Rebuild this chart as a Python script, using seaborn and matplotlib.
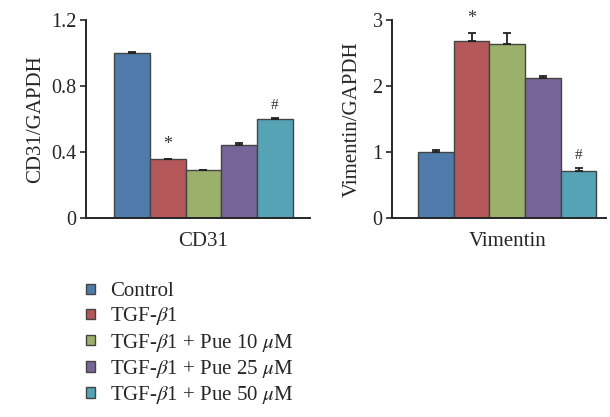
import numpy as np
import pandas as pd
import matplotlib
matplotlib.use("Agg")
import matplotlib.pyplot as plt
import seaborn as sns

# ── data ──────────────────────────────────────────────────
groups = ["Control", r"TGF-$\beta$1", r"TGF-$\beta$1 + Pue 10 $\mu$M",
          r"TGF-$\beta$1 + Pue 25 $\mu$M", r"TGF-$\beta$1 + Pue 50 $\mu$M"]
cd31_mean = [1.00, 0.355, 0.29, 0.44, 0.60]
cd31_err = [0.006, 0.006, 0.004, 0.012, 0.009]
cd31_marks = ["", "*", "", "", "#"]
vim_mean = [1.00, 2.68, 2.63, 2.12, 0.72]
vim_err = [0.03, 0.13, 0.17, 0.025, 0.04]
vim_marks = ["", "*", "", "", "#"]
colors = ["#4f7bab", "#b5585a", "#9bb06a", "#776599", "#55a3b5"]

sns.set_style("ticks")
plt.rcParams["font.family"] = ["Liberation Serif", "DejaVu Serif"]
plt.rcParams["mathtext.fontset"] = "stix"
plt.rcParams["axes.linewidth"] = 1.4


def panel(ax, name, means, errs, marks, ylim, yticks, yticklabels, ylabel, xlim, pad):
    df = pd.DataFrame({"marker": [name] * len(groups), "group": groups, "value": means})
    sns.barplot(data=df, x="marker", y="value", hue="group", hue_order=groups,
                palette=colors, saturation=1, width=0.8, edgecolor="#444444",
                linewidth=1.0, errorbar=None, legend=False, ax=ax)
    bars = [p for p in ax.patches if p.get_height() > 0]
    for p, m, e, s in zip(bars, means, errs, marks):
        xc = p.get_x() + p.get_width() / 2
        ax.errorbar(xc, m, yerr=[[0], [e]], color="#222222", capsize=3,
                    elinewidth=1.3, capthick=1.3)
        if s:
            ax.text(xc, m + e + ylim[1] * 0.03, s, ha="center", va="bottom",
                    fontsize=13 if s == "*" else 11, color="#333333")
    ax.set_ylim(*ylim)
    ax.set_xlim(*xlim)
    ax.set_yticks(yticks)
    ax.set_yticklabels(yticklabels, fontsize=14.5)
    ax.set_ylabel(ylabel, fontsize=15, labelpad=pad)
    ax.set_xlabel("")
    ax.tick_params(axis="x", length=0, labelsize=15, pad=10)
    ax.tick_params(axis="y", length=4, width=1.2, direction="out", pad=3)
    sns.despine(ax=ax)


fig = plt.figure(figsize=(6.1, 4.17), dpi=100)
ax1 = fig.add_axes([0.141, 0.477, 0.367, 0.475])
ax2 = fig.add_axes([0.643, 0.477, 0.351, 0.475])

panel(ax1, "CD31", cd31_mean, cd31_err, cd31_marks, (0, 1.2),
      [0, 0.4, 0.8, 1.2], ["0", "0.4", "0.8", "1.2"], "CD31/GAPDH",
      (-0.525, 0.476), 4)
panel(ax2, "Vimentin", vim_mean, vim_err, vim_marks, (0, 3),
      [0, 1, 2, 3], ["0", "1", "2", "3"], "Vimentin/GAPDH",
      (-0.517, 0.445), 8)

handles = [p for p in ax1.patches if p.get_height() > 0]
fig.legend(handles, groups, loc="upper left", bbox_to_anchor=(0.128, 0.343),
           frameon=False, fontsize=15, handlelength=0.4, handleheight=0.4,
           handletextpad=0.75, labelspacing=0.2, borderaxespad=0)

fig.savefig("out.png", dpi=100)
